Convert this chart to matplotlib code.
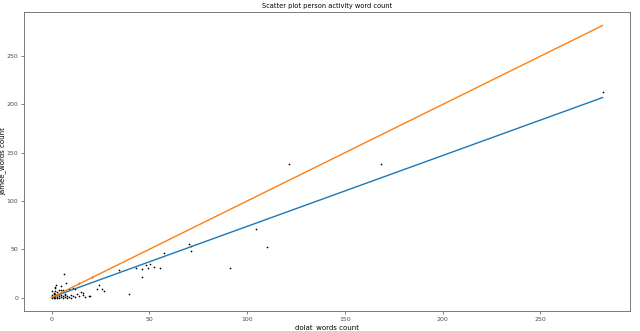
import numpy as np
import matplotlib.pyplot as plt

# word counts per person
dolat_words = [0, 0, 0, 1, 1, 1, 1, 2, 2, 2, 2, 3, 3, 3, 3, 4, 4, 4, 5, 5,
               5, 6, 6, 7, 7, 8, 8, 9, 10, 10, 11, 12, 12, 13, 14, 15, 16, 16, 17, 19,
               0, 1, 2, 2, 4, 5, 6, 7, 9, 11,
               20.6, 24.4, 23.4, 25.6, 26.6, 19.7, 34.7, 39.5, 43.4, 46.5,
               46.5, 48.3, 49.5, 50.3, 52.5, 55.4, 57.6, 70.5, 71.5, 71.5,
               91.4, 104.4, 110.4, 121.6, 168.3, 281.8, 6.2, 2.2, 7.6, 14.1]
jamee_words = [0, 1, 3, 0, 2, 5, 1, 0, 2, 4, 7, 1, 3, 0, 6, 2, 0, 4, 1, 3,
               8, 0, 2, 1, 4, 0, 2, 1, 3, 0, 2, 1, 9, 4, 2, 6, 3, 5, 1, 2,
               7, 4, 10, 11, 8, 12, 8, 3, 9, 10,
               21.7, 13.4, 8.6, 9.3, 7.2, 2.0, 28.2, 3.4, 30.3, 29.2,
               21.7, 33.7, 31.0, 34.4, 32.0, 31.0, 46.5, 55.8, 53.7, 47.8,
               31.0, 70.6, 52.0, 138.8, 138.8, 213.0, 24.0, 13.4, 14.8, 14.8]

# fitted line (blue)
fit_slope = 0.734
fit_intercept = 0.3

x = np.array(dolat_words)
y = np.array(jamee_words)
xl = np.array([x.min(), x.max()])

fig = plt.figure(figsize=(6.4, 3.31), dpi=100)
ax = fig.add_axes([0.0375, 0.06, 0.947, 0.904])
ax.scatter(x, y, s=1.5, c='black', linewidths=0)
ax.plot(xl, fit_slope * xl + fit_intercept, color='#1f77b4', linewidth=1.0)
ax.plot(xl, xl, color='#ff7f0e', linewidth=1.0)

ax.set_title('Scatter plot person activity word count', fontsize=4.8, pad=3)
ax.set_xlabel('dolat_words count', fontsize=5, labelpad=2)
ax.set_ylabel('jamee_words count', fontsize=5)
ax.yaxis.set_label_coords(-0.029, 0.5)
ax.set_xticks([0, 50, 100, 150, 200, 250])
ax.set_yticks([0, 50, 100, 150, 200, 250])
ax.tick_params(labelsize=4.5, length=2, width=0.5, pad=2, colors='0.3')
for sp in ax.spines.values():
    sp.set_linewidth(0.6)
    sp.set_color('0.4')

plt.savefig('out.png', dpi=100)
